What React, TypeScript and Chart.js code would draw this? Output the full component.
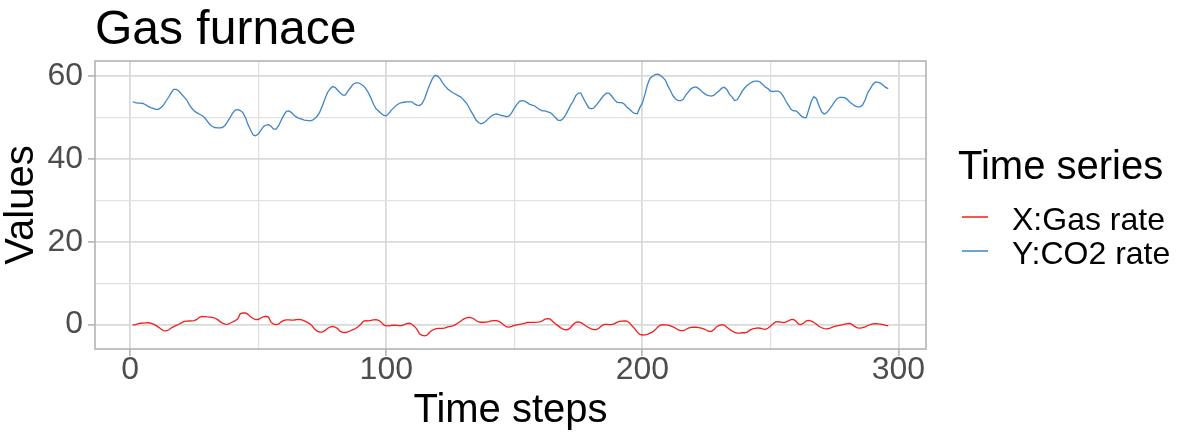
import React, { useEffect, useRef } from "react";
import { Chart, registerables } from "chart.js";

Chart.register(...registerables);

const FONT = "'Liberation Sans', Arial, sans-serif";

const chartTitle = "Gas furnace";
const xAxisTitle = "Time steps";
const yAxisTitle = "Values";
const legendTitle = "Time series";
const seriesNames = ["X:Gas rate", "Y:CO2 rate"];
const seriesColors = ["#F51C1C", "#3D85C6"];

const xTickValues = [0, 50, 100, 150, 200, 250, 300];
const xTickLabels = [0, 100, 200, 300];
const yTickValues = [0, 10, 20, 30, 40, 50, 60];
const yTickLabels = [0, 20, 40, 60];

const gasRate = [
  -0.109, 0.0, 0.178, 0.339, 0.373, 0.441, 0.461, 0.348, 0.127, -0.18,
  -0.588, -1.055, -1.421, -1.52, -1.302, -0.814, -0.475, -0.193, 0.088, 0.435,
  0.771, 0.866, 0.875, 0.891, 0.987, 1.263, 1.775, 1.976, 1.934, 1.866,
  1.832, 1.767, 1.608, 1.265, 0.79, 0.36, 0.115, 0.088, 0.331, 0.645,
  0.96, 1.409, 2.67, 2.834, 2.812, 2.483, 1.929, 1.485, 1.214, 1.239,
  1.608, 1.905, 2.023, 1.815, 0.535, 0.122, 0.009, 0.164, 0.671, 1.019,
  1.146, 1.155, 1.112, 1.121, 1.223, 1.257, 1.157, 0.913, 0.62, 0.255,
  -0.28, -1.08, -1.551, -1.799, -1.825, -1.456, -0.944, -0.57, -0.431, -0.577,
  -0.96, -1.616, -1.875, -1.891, -1.746, -1.474, -1.201, -0.927, -0.524, 0.04,
  0.788, 0.943, 0.93, 1.006, 1.137, 1.198, 1.054, 0.595, -0.08, -0.314,
  -0.288, -0.153, -0.109, -0.187, -0.255, -0.229, -0.007, 0.254, 0.33, 0.102,
  -0.423, -1.139, -2.275, -2.594, -2.716, -2.51, -1.79, -1.346, -1.081, -0.91,
  -0.876, -0.885, -0.8, -0.544, -0.416, -0.271, 0.0, 0.403, 0.841, 1.285,
  1.607, 1.746, 1.683, 1.485, 0.993, 0.648, 0.577, 0.577, 0.632, 0.747,
  0.9, 0.993, 0.968, 0.79, 0.399, -0.161, -0.553, -0.603, -0.424, -0.194,
  -0.049, 0.06, 0.161, 0.301, 0.517, 0.566, 0.56, 0.573, 0.592, 0.671,
  0.933, 1.337, 1.46, 1.353, 0.772, 0.218, -0.237, -0.714, -1.099, -1.269,
  -1.175, -0.676, 0.033, 0.556, 0.643, 0.484, 0.109, -0.31, -0.697, -1.047,
  -1.218, -1.183, -0.873, -0.336, 0.063, 0.084, 0.0, 0.001, 0.209, 0.556,
  0.782, 0.858, 0.918, 0.862, 0.416, -0.336, -0.959, -1.813, -2.378, -2.499,
  -2.473, -2.33, -2.053, -1.739, -1.261, -0.569, -0.137, -0.024, -0.05, -0.135,
  -0.276, -0.534, -0.871, -1.243, -1.439, -1.422, -1.175, -0.813, -0.634, -0.582,
  -0.625, -0.713, -0.848, -1.039, -1.346, -1.628, -1.619, -1.149, -0.488, -0.16,
  -0.007, -0.092, -0.62, -1.086, -1.525, -1.858, -2.029, -2.024, -1.961, -1.952,
  -1.794, -1.302, -1.03, -0.918, -0.798, -0.867, -1.047, -1.123, -0.876, -0.395,
  0.185, 0.662, 0.709, 0.605, 0.501, 0.603, 0.943, 1.223, 1.249, 0.824,
  0.102, 0.025, 0.382, 0.922, 1.032, 0.866, 0.527, 0.093, -0.458, -0.748,
  -0.947, -1.029, -0.928, -0.645, -0.424, -0.276, -0.158, -0.033, 0.102, 0.251,
  0.28, 0.0, -0.493, -0.759, -0.824, -0.74, -0.528, -0.204, 0.034, 0.204,
  0.253, 0.195, 0.131, 0.017, -0.182, -0.262,
];

const co2Rate = [
  53.8, 53.6, 53.5, 53.5, 53.4, 53.1, 52.7, 52.4, 52.2, 52.0,
  52.0, 52.4, 53.0, 54.0, 54.9, 56.0, 56.8, 56.8, 56.4, 55.7,
  55.0, 54.3, 53.2, 52.3, 51.6, 51.2, 50.8, 50.5, 50.0, 49.2,
  48.4, 47.9, 47.6, 47.5, 47.5, 47.6, 48.1, 49.0, 50.0, 51.1,
  51.8, 51.9, 51.7, 51.2, 50.0, 48.3, 47.0, 45.8, 45.6, 46.0,
  46.9, 47.8, 48.2, 48.3, 47.9, 47.2, 47.2, 48.1, 49.4, 50.6,
  51.5, 51.6, 51.2, 50.5, 50.1, 49.8, 49.6, 49.4, 49.3, 49.2,
  49.3, 49.7, 50.3, 51.3, 52.8, 54.4, 56.0, 56.9, 57.5, 57.3,
  56.6, 56.0, 55.4, 55.4, 56.4, 57.2, 58.0, 58.4, 58.4, 58.1,
  57.7, 57.0, 56.0, 54.7, 53.2, 52.1, 51.6, 51.0, 50.5, 50.4,
  51.0, 51.8, 52.4, 53.0, 53.4, 53.6, 53.7, 53.8, 53.8, 53.8,
  53.3, 53.0, 52.9, 53.4, 54.6, 56.4, 58.0, 59.4, 60.2, 60.0,
  59.4, 58.4, 57.6, 56.9, 56.4, 56.0, 55.7, 55.3, 55.0, 54.4,
  53.7, 52.8, 51.6, 50.6, 49.4, 48.8, 48.5, 48.7, 49.2, 49.8,
  50.4, 50.7, 50.9, 50.7, 50.5, 50.4, 50.2, 50.4, 51.2, 52.3,
  53.2, 53.9, 54.1, 54.0, 53.6, 53.2, 53.0, 52.8, 52.3, 51.9,
  51.6, 51.6, 51.4, 51.2, 50.7, 50.0, 49.4, 49.3, 49.7, 50.6,
  51.8, 53.0, 54.0, 55.3, 55.9, 55.9, 54.6, 53.5, 52.4, 52.1,
  52.3, 53.0, 53.8, 54.6, 55.4, 55.9, 55.9, 55.2, 54.4, 53.7,
  53.6, 53.6, 53.2, 52.5, 52.0, 51.4, 51.0, 50.9, 52.4, 53.5,
  55.6, 58.0, 59.5, 60.0, 60.4, 60.5, 60.2, 59.7, 59.0, 57.6,
  56.4, 55.2, 54.5, 54.1, 54.1, 54.4, 55.5, 56.2, 57.0, 57.3,
  57.4, 57.0, 56.4, 55.9, 55.5, 55.3, 55.2, 55.4, 56.0, 56.5,
  57.1, 57.3, 56.8, 55.6, 55.0, 54.1, 54.3, 55.3, 56.4, 57.2,
  57.8, 58.3, 58.6, 58.8, 58.8, 58.6, 58.0, 57.4, 57.0, 56.4,
  56.3, 56.4, 56.4, 56.0, 55.2, 54.0, 53.0, 52.0, 51.6, 51.6,
  51.1, 50.4, 50.0, 50.0, 52.0, 54.0, 55.1, 54.5, 52.8, 51.4,
  50.8, 51.2, 52.0, 52.8, 53.8, 54.5, 54.9, 54.9, 54.8, 54.4,
  53.7, 53.3, 52.8, 52.6, 52.6, 53.0, 54.3, 56.0, 57.0, 58.0,
  58.6, 58.5, 58.3, 57.8, 57.3, 57.0,
];

const timeSteps = co2Rate.map((_, i) => i + 1);

const GRID_MAJOR = "#DADADA";
const GRID_MINOR = "#E2E2E2";
const BORDER = "#B3B3B3";

const panelBorderPlugin = {
  id: "panelBorder",
  afterDatasetsDraw(chart: any) {
    const { ctx, chartArea } = chart;
    ctx.save();
    ctx.strokeStyle = BORDER;
    ctx.lineWidth = 1.6;
    ctx.strokeRect(chartArea.left, chartArea.top, chartArea.right - chartArea.left, chartArea.bottom - chartArea.top);
    ctx.restore();
  },
};

const customLegendPlugin = {
  id: "customLegend",
  afterDraw(chart: any) {
    const { ctx } = chart;
    ctx.save();
    ctx.fillStyle = "#000000";
    ctx.textAlign = "left";
    ctx.textBaseline = "alphabetic";
    ctx.font = `40px ${FONT}`;
    ctx.fillText(legendTitle, 958, 179);
    const keyY = [217, 251];
    const textY = [230, 264];
    chart.data.datasets.forEach((ds: any, i: number) => {
      ctx.strokeStyle = ds.borderColor;
      ctx.lineWidth = 1.5;
      ctx.beginPath();
      ctx.moveTo(962, keyY[i]);
      ctx.lineTo(988, keyY[i]);
      ctx.stroke();
      ctx.fillStyle = "#000000";
      ctx.font = `32px ${FONT}`;
      ctx.fillText(ds.label, 1012, textY[i]);
    });
    ctx.restore();
  },
};

export default function App() {
  const canvasRef = useRef<HTMLCanvasElement | null>(null);

  useEffect(() => {
    if (!canvasRef.current) return;
    Chart.defaults.font.family = FONT;
    const isMajor = (list: number[]) => (c: any) => !!(c.tick && list.includes(c.tick.value));
    const xMajor = isMajor(xTickLabels);
    const yMajor = isMajor(yTickLabels);
    const chart = new Chart(canvasRef.current, {
      type: "line",
      data: {
        labels: timeSteps,
        datasets: [
          {
            label: seriesNames[0],
            data: gasRate,
            borderColor: seriesColors[0],
            backgroundColor: seriesColors[0],
            borderWidth: 1.3,
            pointRadius: 0,
            tension: 0,
            fill: false,
          },
          {
            label: seriesNames[1],
            data: co2Rate,
            borderColor: seriesColors[1],
            backgroundColor: seriesColors[1],
            borderWidth: 1.3,
            pointRadius: 0,
            tension: 0,
            fill: false,
          },
        ],
      },
      options: {
        responsive: false,
        maintainAspectRatio: false,
        animation: false,
        devicePixelRatio: 1,
        events: [],
        layout: { padding: { left: 0, right: 266, top: 0, bottom: 0 } },
        plugins: {
          legend: { display: false },
          tooltip: { enabled: false },
          title: {
            display: true,
            text: chartTitle,
            align: "start",
            fullSize: false,
            color: "#000000",
            font: { family: FONT, size: 48, weight: "normal", lineHeight: 1.1 },
            padding: { top: 4, bottom: 4.2 },
          },
        },
        scales: {
          x: {
            type: "linear",
            min: -13.75,
            max: 310.75,
            afterBuildTicks: (scale: any) => {
              scale.ticks = xTickValues.map((v) => ({ value: v }));
            },
            afterFit: (scale: any) => {
              scale.height = 95;
            },
            ticks: {
              autoSkip: false,
              maxRotation: 0,
              color: "#4D4D4D",
              font: { family: FONT, size: 32, lineHeight: 1 },
              padding: -2,
              callback: (v: any) => (xTickLabels.includes(Number(v)) ? String(v) : ""),
            },
            grid: {
              drawTicks: true,
              tickLength: 7,
              color: (c: any) => (xMajor(c) ? GRID_MAJOR : GRID_MINOR),
              lineWidth: (c: any) => (xMajor(c) ? 1.8 : 1.3),
              tickColor: (c: any) => (xMajor(c) ? BORDER : "rgba(0,0,0,0)"),
              tickWidth: 1.6,
            },
            border: { display: false },
            title: {
              display: true,
              text: xAxisTitle,
              color: "#000000",
              font: { family: FONT, size: 40, lineHeight: 1.1 },
              padding: { top: 0, bottom: 11 },
            },
          },
          y: {
            type: "linear",
            min: -5.88,
            max: 63.66,
            afterBuildTicks: (scale: any) => {
              scale.ticks = yTickValues.map((v) => ({ value: v }));
            },
            afterFit: (scale: any) => {
              scale.width = 95;
            },
            ticks: {
              autoSkip: false,
              color: "#4D4D4D",
              font: { family: FONT, size: 32, lineHeight: 1 },
              padding: 5,
              callback: (v: any) => (yTickLabels.includes(Number(v)) ? String(v) : ""),
            },
            grid: {
              drawTicks: true,
              tickLength: 7,
              color: (c: any) => (yMajor(c) ? GRID_MAJOR : GRID_MINOR),
              lineWidth: (c: any) => (yMajor(c) ? 1.8 : 1.3),
              tickColor: (c: any) => (yMajor(c) ? BORDER : "rgba(0,0,0,0)"),
              tickWidth: 1.6,
            },
            border: { display: false },
            title: {
              display: true,
              text: yAxisTitle,
              color: "#000000",
              font: { family: FONT, size: 40, lineHeight: 1.1 },
              padding: { top: 0, bottom: 0 },
            },
          },
        },
      },
      plugins: [panelBorderPlugin, customLegendPlugin],
    } as any);
    return () => chart.destroy();
  }, []);

  return (
    <div style={{ position: "absolute", left: 0, top: 0, width: 1192, height: 444, background: "#FFFFFF" }}>
      <canvas ref={canvasRef} width={1192} height={444} style={{ width: "1192px", height: "444px", display: "block" }} />
    </div>
  );
}
